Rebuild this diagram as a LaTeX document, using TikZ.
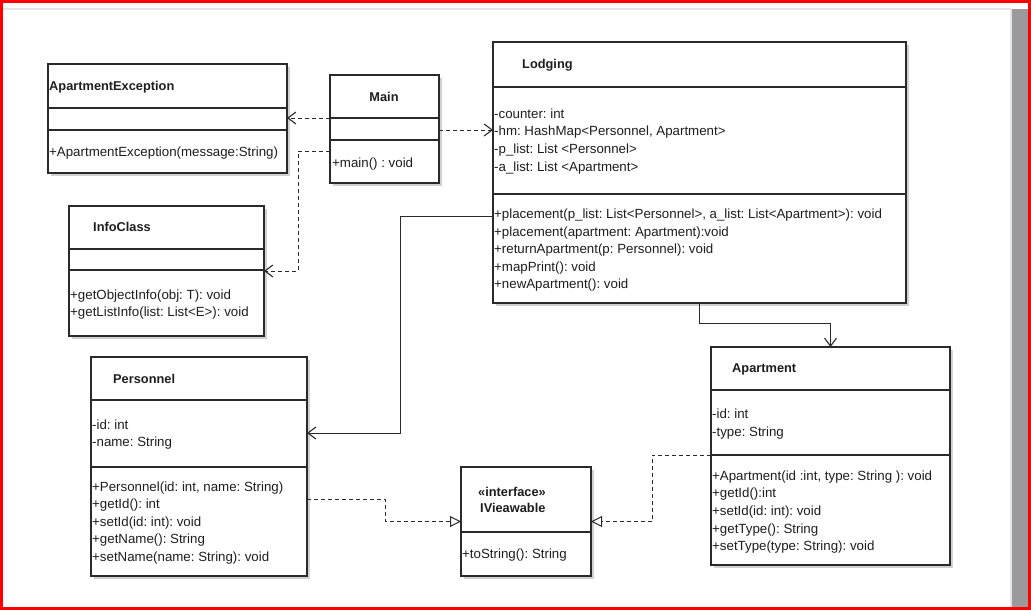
\documentclass[tikz,border=0pt]{standalone}
\usepackage{fontspec}
\setmainfont{Liberation Sans}
\usetikzlibrary{arrows.meta,calc,shadows}
\definecolor{linec}{HTML}{2A2A2A}
\definecolor{txtc}{HTML}{1E1E1E}
\definecolor{framered}{HTML}{FF0000}
\definecolor{barg}{HTML}{9B999C}
\definecolor{shadowc}{HTML}{D0D0D0}
\definecolor{topline}{HTML}{E4E4E8}
\frenchspacing
\begin{document}
\begin{tikzpicture}[x=1pt,y=-1pt,
  umlbox/.style={draw=linec, line width=1.1pt, fill=white, anchor=north west,
    inner sep=0pt, outer sep=0pt,
    drop shadow={shadow xshift=3pt, shadow yshift=-3pt, fill=shadowc, opacity=1}},
  divl/.style={draw=linec, line width=1.1pt},
  lbl/.style={anchor=west, inner sep=0pt, text height=9.5pt, text depth=0pt,
    text=txtc, font=\fontsize{13.3pt}{16pt}\selectfont\frenchspacing},
  ttl/.style={lbl, font=\fontsize{12.8pt}{16pt}\selectfont\bfseries},
  dep/.style={draw=linec, line width=0.9pt, dash pattern=on 4pt off 3pt,
    -{Straight Barb[length=8pt,width=12pt,line width=1.1pt]}},
  assoc/.style={draw=linec, line width=1pt,
    -{Straight Barb[length=8pt,width=12pt,line width=1.1pt]}},
  realiz/.style={draw=linec, line width=0.9pt, dash pattern=on 4pt off 3pt,
    -{Triangle[open,length=11pt,width=11pt,line width=1pt,fill=white]}}
]
% frame
\fill[white] (0,0) rectangle (1031,610);
\useasboundingbox (0,0) rectangle (1031,610);
\fill[topline] (3,8.5) rectangle (1012,10);
\fill[topline] (1009.5,10) rectangle (1012,607);
\fill[barg] (1012,9) rectangle (1028,607);
\fill[framered] (0,0) rectangle (1031,3);
\fill[framered] (0,0) rectangle (3,610);
\fill[framered] (1028,0) rectangle (1031,610);
\fill[framered] (0,607) rectangle (1031,610);

% ApartmentException
\node[umlbox, minimum width=239pt, minimum height=109pt] (ae) at (48,64) {};
\draw[divl] (ae.west |- 0,108) -- (ae.east |- 0,108);
\draw[divl] (ae.west |- 0,130) -- (ae.east |- 0,130);
\node[ttl] (aet) at (49,86) {ApartmentException};
\node[lbl] (aem) at (49,152) {+ApartmentException(message:String)};

% Main
\node[umlbox, minimum width=109pt, minimum height=108pt] (main) at (330,75) {};
\draw[divl] (main.west |- 0,118) -- (main.east |- 0,118);
\draw[divl] (main.west |- 0,140) -- (main.east |- 0,140);
\node[ttl, anchor=center] (maint) at (384,97) {Main};
\node[lbl] (mainm) at (332,163) {+main() : void};

% Lodging
\node[umlbox, minimum width=413pt, minimum height=261pt] (lod) at (493,42) {};
\draw[divl] (lod.west |- 0,87) -- (lod.east |- 0,87);
\draw[divl] (lod.west |- 0,194) -- (lod.east |- 0,194);
\node[ttl] (lodt) at (522,64) {Lodging};
\node[lbl] (loda1) at (494,114) {-counter: int};
\node[lbl] (loda2) at (494,131) {-hm: HashMap<Personnel, Apartment>};
\node[lbl] (loda3) at (494,149) {-p\_list: List <Personnel>};
\node[lbl] (loda4) at (494,167) {-a\_list: List <Apartment>};
\node[lbl] (lodm1) at (494,214) {+placement(p\_list: List<Personnel>, a\_list: List<Apartment>): void};
\node[lbl] (lodm2) at (494,232) {+placement(apartment: Apartment):void};
\node[lbl] (lodm3) at (494,249) {+returnApartment(p: Personnel): void};
\node[lbl] (lodm4) at (494,267) {+mapPrint(): void};
\node[lbl] (lodm5) at (494,284) {+newApartment(): void};

% InfoClass
\node[umlbox, minimum width=195pt, minimum height=130pt] (info) at (69,206) {};
\draw[divl] (info.west |- 0,249) -- (info.east |- 0,249);
\draw[divl] (info.west |- 0,270) -- (info.east |- 0,270);
\node[ttl] (infot) at (93,227) {InfoClass};
\node[lbl] (infom1) at (70,295) {+getObjectInfo(obj: T): void};
\node[lbl] (infom2) at (70,312) {+getListInfo(list: List<E>): void};

% Personnel
\node[umlbox, minimum width=216pt, minimum height=219pt] (pers) at (91,357) {};
\draw[divl] (pers.west |- 0,400) -- (pers.east |- 0,400);
\draw[divl] (pers.west |- 0,467) -- (pers.east |- 0,467);
\node[ttl] (perst) at (113,379) {Personnel};
\node[lbl] (persa1) at (92,425) {-id: int};
\node[lbl] (persa2) at (92,442) {-name: String};
\node[lbl] (persm1) at (92,487) {+Personnel(id: int, name: String)};
\node[lbl] (persm2) at (92,504) {+getId(): int};
\node[lbl] (persm3) at (92,522) {+setId(id: int): void};
\node[lbl] (persm4) at (92,539) {+getName(): String};
\node[lbl] (persm5) at (92,557) {+setName(name: String): void};

% IVieawable
\node[umlbox, minimum width=130pt, minimum height=109pt] (iv) at (461,467) {};
\draw[divl] (iv.west |- 0,532) -- (iv.east |- 0,532);
\node[ttl] (ivs) at (478,492) {«interface»};
\node[ttl] (ivt) at (480,508) {IVieawable};
\node[lbl] (ivm) at (462,554) {+toString(): String};

% Apartment
\node[umlbox, minimum width=239pt, minimum height=218pt] (apt) at (711,347) {};
\draw[divl] (apt.west |- 0,390) -- (apt.east |- 0,390);
\draw[divl] (apt.west |- 0,455) -- (apt.east |- 0,455);
\node[ttl] (aptt) at (732,368) {Apartment};
\node[lbl] (apta1) at (712,414) {-id: int};
\node[lbl] (apta2) at (712,432) {-type: String};
\node[lbl] (aptm1) at (712,476) {+Apartment(id :int, type: String ): void};
\node[lbl] (aptm2) at (712,493) {+getId():int};
\node[lbl] (aptm3) at (712,511) {+setId(id: int): void};
\node[lbl] (aptm4) at (712,529) {+getType(): String};
\node[lbl] (aptm5) at (712,546) {+setType(type: String): void};

% connectors
\draw[dep] (main.west |- 0,118) -- (ae.east |- 0,118);
\draw[dep] (main.east |- 0,130) -- (lod.west |- 0,130);
\draw[dep] (main.west |- 0,151) -- (298,151) |- (info.east);
\draw[assoc] (lod.west |- 0,216) -- (400,216) |- (pers.east |- 0,433);
\draw[assoc] (lod.south) -- (lod.south |- 0,323) -| (apt.north);
\draw[realiz] (pers.east |- 0,499) -- (385,499) |- (iv.west |- 0,521.5);
\draw[realiz] (apt.west |- 0,455) -- (652,455) |- (iv.east |- 0,521.5);
\end{tikzpicture}
\end{document}
